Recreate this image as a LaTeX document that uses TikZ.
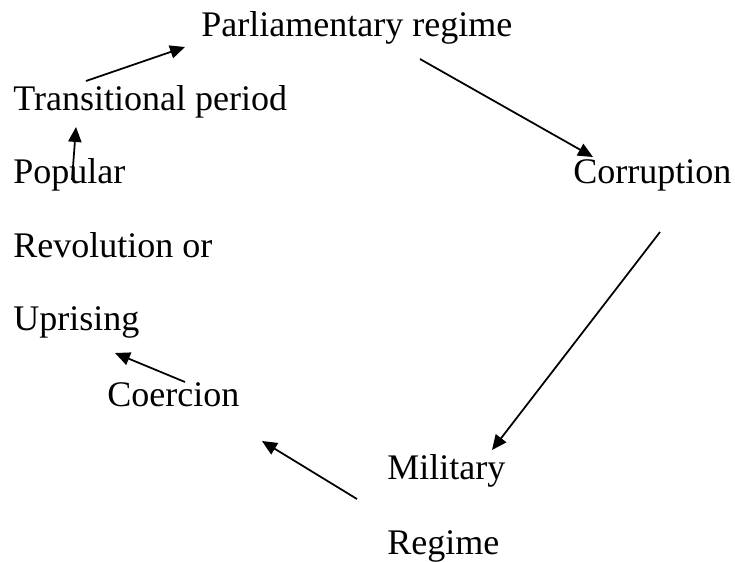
\documentclass[tikz,border=0pt]{standalone}
\usepackage{fontspec}
\setmainfont{Liberation Serif}
\usetikzlibrary{arrows.meta}
\tikzset{
	lbl/.style={anchor=base west,inner sep=0pt,font=\fontsize{20.5}{24}\selectfont},
	arr/.style={line width=1pt,-{Triangle[length=8.5pt,width=7.5pt]}}
}
\begin{document}
\begin{tikzpicture}[x=0.02cm,y=-0.02cm]
			\useasboundingbox(0,0) rectangle (735,562);
			\node[lbl] (parl) at(201,36){Parliamentary regime};
			\node[lbl] (trans) at(13,110){Transitional period};
			\node[lbl] (popular) at(13,183){Popular};
			\node[lbl] (revol) at(13,257){Revolution or};
			\node[lbl] (upris) at(13,330){Uprising};
			\node[lbl] (corrupt) at(573,183){Corruption};
			\node[lbl] (coerc) at(107,406){Coercion};
			\node[lbl] (milit) at(387,479){Military};
			\node[lbl] (regime) at(387,554){Regime};
			\coordinate (a1) at(86,81);
			\coordinate (b1) at(185,47);
			\coordinate (a2) at(72,180);
			\coordinate (b2) at(76,127);
			\coordinate (a3) at(420,59);
			\coordinate (b3) at(593,157);
			\coordinate (a4) at(660,232);
			\coordinate (b4) at(492,450);
			\coordinate (a5) at(357,499);
			\coordinate (b5) at(262,441);
			\coordinate (a6) at(185,382);
			\coordinate (b6) at(115,353);
			\draw[arr](a1)--(b1);
			\draw[arr](a2)--(b2);
			\draw[arr](a3)--(b3);
			\draw[arr](a4)--(b4);
			\draw[arr](a5)--(b5);
			\draw[arr](a6)--(b6);
			\end{tikzpicture}
\end{document}
